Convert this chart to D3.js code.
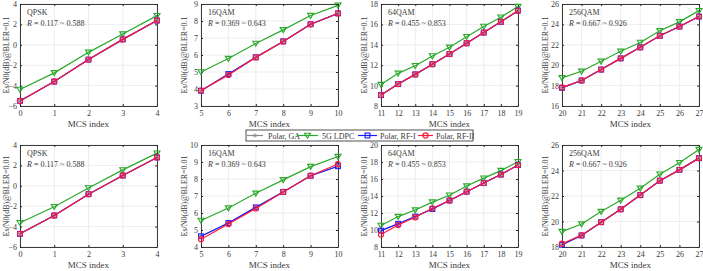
<!DOCTYPE html>
<html><head><meta charset="utf-8">
<script src="https://cdn.jsdelivr.net/npm/d3@7"></script>
<style>body{margin:0;background:#fff}svg{display:block}text{font-family:"Liberation Serif","Times New Roman",serif;fill:#3a3a3a}</style>
</head><body><svg id="c" width="703" height="271"></svg>
<script>
// ---- data ----
const modulations = ["QPSK","16QAM","64QAM","256QAM"];
const rateRanges = ["0.117 ~ 0.588","0.369 ~ 0.643","0.455 ~ 0.853","0.667 ~ 0.926"];
const mcsRanges = [[0,4],[5,10],[11,19],[20,27]];
const blerTargets = ["0.1","0.01"];
const seriesNames = ["Polar, GA","5G LDPC","Polar, RF-I","Polar, RF-II"];
const yTicks01 = [[-6,-4,-2,0,2,4],[3,4,5,6,7,8,9],[8,10,12,14,16,18],[16,18,20,22,24,26]];
const yTicks001 = [[-6,-4,-2,0,2,4],[4,5,6,7,8,9,10],[8,10,12,14,16,18,20],[18,20,22,24,26]];

// BLER = 0.1
const ga01 = [[-5.5,-3.6,-1.45,0.53,2.38],[3.9,4.86,5.86,6.8,7.81,8.44],[9.07,10.15,11.1,12.1,13.1,14.15,15.2,16.25,17.35],[17.8,18.5,19.57,20.67,21.75,22.88,23.79,24.77]];
const ldpc01 = [[-4.38,-2.75,-0.74,1.05,2.86],[5.0,5.79,6.68,7.48,8.32,8.92],[10.1,11.2,11.95,12.9,13.75,14.8,15.8,16.7,17.75],[18.76,19.4,20.38,21.36,22.23,23.37,24.25,25.35]];
const rf1_01 = [[-5.5,-3.6,-1.45,0.53,2.38],[3.9,4.88,5.87,6.8,7.81,8.45],[9.07,10.15,11.1,12.1,13.1,14.15,15.2,16.25,17.35],[17.78,18.5,19.57,20.67,21.75,22.88,23.79,24.77]];
const rf2_01 = [[-5.51,-3.6,-1.45,0.53,2.38],[3.91,4.83,5.86,6.8,7.81,8.44],[9.07,10.15,11.1,12.1,13.1,14.15,15.2,16.25,17.35],[17.82,18.5,19.57,20.67,21.75,22.88,23.79,24.77]];
// BLER = 0.01
const ga001 = [[-4.71,-2.91,-0.82,1.01,2.78],[4.63,5.41,6.33,7.24,8.19,8.75],[9.92,10.73,11.58,12.47,13.47,14.51,15.52,16.52,17.64],[18.18,18.9,19.95,20.96,22.07,23.2,24.05,24.97]];
const ldpc001 = [[-3.62,-2.05,-0.21,1.56,3.2],[5.56,6.29,7.16,7.95,8.73,9.32],[10.54,11.58,12.35,13.28,14.09,15.17,16.1,16.99,18.03],[19.21,19.8,20.78,21.66,22.6,23.71,24.61,25.64]];
const rf1_001 = [[-4.71,-2.91,-0.82,1.01,2.78],[4.63,5.41,6.33,7.24,8.19,8.75],[9.92,10.73,11.58,12.47,13.47,14.51,15.52,16.52,17.64],[18.18,18.9,19.95,20.96,22.07,23.2,24.05,24.97]];
const rf2_001 = [[-4.71,-2.91,-0.82,1.01,2.78],[4.46,5.35,6.27,7.24,8.19,8.88],[9.46,10.58,11.5,12.55,13.47,14.51,15.52,16.52,17.64],[18.26,18.93,19.95,20.96,22.07,23.2,24.05,24.97]];

// ---- styles ----
const colors = ["#8c8c8c","#2aa82a","#1a1aff","#ff1a3c"];
const markers = ["star","tri","square","circle"];

const svg = d3.select("#c");
const colLeft = [20,201,381,562], W = 137;
const labelOffset = [11,14,14,14];
const rowTop = [4,145], H = 102;

function drawMarker(g, type, x, y, color){
  if(type==="circle") g.append("circle").attr("cx",x).attr("cy",y).attr("r",2.6).attr("fill","none").attr("stroke",color).attr("stroke-width",1.1);
  else if(type==="square") g.append("rect").attr("x",x-2.4).attr("y",y-2.4).attr("width",4.8).attr("height",4.8).attr("fill","none").attr("stroke",color).attr("stroke-width",1.1);
  else if(type==="tri") g.append("path").attr("d",`M${x-3},${y-2.2}L${x+3},${y-2.2}L${x},${y+2.8}Z`).attr("fill","none").attr("stroke",color).attr("stroke-width",1.1);
  else g.append("path").attr("d",`M${x-2},${y}L${x+2},${y}M${x},${y-2}L${x},${y+2}M${x-1.5},${y-1.5}L${x+1.5},${y+1.5}M${x-1.5},${y+1.5}L${x+1.5},${y-1.5}`).attr("stroke",color).attr("stroke-width",0.9);
}

const rows = [
  {series:[ga01,ldpc01,rf1_01,rf2_01], ticks:yTicks01},
  {series:[ga001,ldpc001,rf1_001,rf2_001], ticks:yTicks001}
];

rows.forEach((row,ri)=>{
  modulations.forEach((mod,ci)=>{
    const x0 = colLeft[ci], y0 = rowTop[ri];
    const [m0,m1] = mcsRanges[ci];
    const mcs = d3.range(m0,m1+1);
    const yt = row.ticks[ci];
    const x = d3.scaleLinear().domain([m0,m1]).range([x0,x0+W]);
    const y = d3.scaleLinear().domain([yt[0],yt[yt.length-1]]).range([y0+H,y0]);
    const g = svg.append("g");
    // grid
    g.selectAll(".gx").data(mcs).enter().append("line").attr("x1",d=>x(d)).attr("x2",d=>x(d)).attr("y1",y0).attr("y2",y0+H).attr("stroke","#e8e8e8").attr("stroke-width",0.8);
    g.selectAll(".gy").data(yt).enter().append("line").attr("y1",d=>y(d)).attr("y2",d=>y(d)).attr("x1",x0).attr("x2",x0+W).attr("stroke","#e8e8e8").attr("stroke-width",0.8);
    // axes (ticks inward)
    const ax = g.append("g").attr("transform",`translate(0,${y0+H})`).call(d3.axisBottom(x).tickValues(mcs).tickSizeInner(-2).tickSizeOuter(0).tickPadding(4).tickFormat(d3.format("d")));
    const ay = g.append("g").attr("transform",`translate(${x0},0)`).call(d3.axisLeft(y).tickValues(yt).tickSizeInner(-2).tickSizeOuter(0).tickPadding(3).tickFormat(d3.format("d")));
    const axT = g.append("g").attr("transform",`translate(0,${y0})`).call(d3.axisTop(x).tickValues(mcs).tickSizeInner(-2).tickSizeOuter(0).tickFormat(""));
    const ayR = g.append("g").attr("transform",`translate(${x0+W},0)`).call(d3.axisRight(y).tickValues(yt).tickSizeInner(-2).tickSizeOuter(0).tickFormat(""));
    [ax,ay,axT,ayR].forEach(a=>{a.select(".domain").attr("stroke","#262626").attr("stroke-width",0.9);a.selectAll(".tick line").attr("stroke","#262626");a.selectAll("text").attr("font-size",8).attr("font-family","Liberation Serif").attr("fill","#3a3a3a");});
    // labels
    g.append("text").attr("x",x0+W/2).attr("y",y0+H+21).attr("text-anchor","middle").attr("font-size",9).text("MCS index");
    g.append("text").attr("transform",`translate(${x0-labelOffset[ci]},${y0+H/2}) rotate(-90)`).attr("text-anchor","middle").attr("font-size",8).text(`Es/N0(dB)@BLER=${blerTargets[ri]}`);
    // annotation
    g.append("text").attr("x",x0+7).attr("y",y0+11).attr("font-size",8).text(mod);
    const t = g.append("text").attr("x",x0+7).attr("y",y0+21.5).attr("font-size",8);
    t.append("tspan").attr("font-style","italic").text("R");
    t.append("tspan").text(" = "+rateRanges[ci]);
    // series
    row.series.forEach((s,si)=>{
      const vals = s[ci];
      const line = d3.line().x((d,i)=>x(mcs[i])).y(d=>y(d));
      g.append("path").attr("d",line(vals)).attr("fill","none").attr("stroke",colors[si]).attr("stroke-width",1.2);
      vals.forEach((v,i)=>drawMarker(g,markers[si],x(mcs[i]),y(v),colors[si]));
    });
  });
});

// legend
const lg = svg.append("g");
lg.append("rect").attr("x",246).attr("y",130).attr("width",227).attr("height",11).attr("fill","#fff").attr("stroke","#262626").attr("stroke-width",0.8);
const legX = [[247,263,268],[297,318,322],[358,377,380],[418,433,436]];
seriesNames.forEach((n,i)=>{
  const [a,b,tx] = legX[i];
  lg.append("line").attr("x1",a).attr("x2",b).attr("y1",135.5).attr("y2",135.5).attr("stroke",colors[i]).attr("stroke-width",1.2);
  drawMarker(lg,markers[i],(a+b)/2,135.5,colors[i]);
  lg.append("text").attr("x",tx).attr("y",138.5).attr("font-size",8).text(n);
});
</script></body></html>
